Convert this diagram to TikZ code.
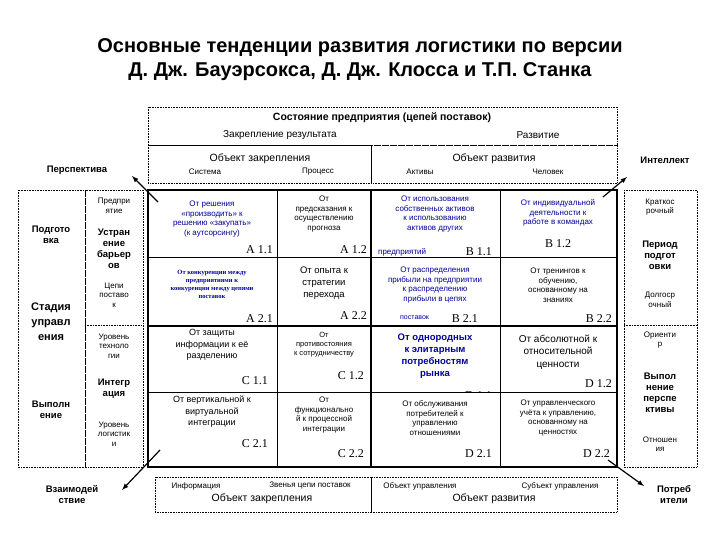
\documentclass[tikz,border=0pt]{standalone}
\usepackage{fontspec}
\setmainfont{Liberation Sans}
\newfontfamily\serf{Liberation Serif}
\begin{document}
\begin{tikzpicture}[x=1pt,y=-1pt,
 dot/.style={draw,densely dotted,line width=0.6pt},
 thk/.style={line width=2.2pt},
 thn/.style={line width=0.8pt},
 txt/.style={font=\fontsize{8}{9.5}\selectfont,align=center,inner sep=0pt},
 btxt/.style={font=\fontsize{9.5}{11}\selectfont\bfseries,align=center,inner sep=0pt},
 hd/.style={font=\fontsize{10}{12}\selectfont,inner sep=0pt},
 lbl/.style={font=\serf\fontsize{12}{12}\selectfont,inner sep=0pt,anchor=south east},
 blue/.style={text=blue!60!black},
 arr/.style={-latex,line width=1.2pt}]
\useasboundingbox (0,0) rectangle (720,540);
\node[font=\fontsize{20}{24}\selectfont\bfseries,align=center] (title) at (360,60) {Основные тенденции развития логистики по версии\\Д. Дж. Бауэрсокса, Д. Дж. Клосса и Т.П. Станка};
% top boxes
\draw[dot] (148,107) rectangle (617,145);
\draw[dot] (148,145) rectangle (371,183);
\draw[dot] (371,145) rectangle (617,183);
\node[font=\fontsize{10.5}{12}\selectfont\bfseries] (st) at (382,118) {Состояние предприятия (цепей поставок)};
\node[hd] (zr) at (280,135) {Закрепление результата};
\node[hd] (rz) at (538,135) {Развитие};
\node[hd,font=\fontsize{10.5}{12}\selectfont] (oz) at (260,159) {Объект закрепления};
\node[txt] (sys) at (205,172) {Система};
\node[txt] (proc) at (318,172) {Процесс};
\node[hd,font=\fontsize{10.5}{12}\selectfont] (orz) at (494,159) {Объект развития};
\node[txt] (akt) at (420,172) {Активы};
\node[txt] (chel) at (548,172) {Человек};
% left boxes
\draw[dot] (18,190) rectangle (85,467);
\draw[dot] (85,190) rectangle (143,467);
\draw[dot] (85,325) -- (143,325);
\node[btxt] (l1) at (51,235) {Подгото\\вка};
\node[btxt,font=\fontsize{11}{15}\selectfont\bfseries] (l2) at (51,322) {Стадия\\управл\\ения};
\node[btxt] (l3) at (51,410) {Выполн\\ение};
\node[txt] (i1) at (114,206) {Предпри\\ятие};
\node[btxt] (i2) at (114,249) {Устран\\ение\\барьер\\ов};
\node[txt] (i3) at (114,295) {Цепи\\поставо\\к};
\node[txt] (i4) at (114,346) {Уровень\\техноло\\гии};
\node[btxt] (i5) at (114,389) {Интегр\\ация};
\node[txt] (i6) at (114,434) {Уровень\\логистик\\и};
% right box
\draw[dot] (624,190) rectangle (697,467);
\draw[dot] (624,325) -- (697,325);
\node[txt] (r1) at (660,207) {Краткос\\рочный};
\node[btxt] (r2) at (660,255) {Период\\подгот\\овки};
\node[txt] (r3) at (660,300) {Долгоср\\очный};
\node[txt] (r4) at (660,340) {Ориенти\\р};
\node[btxt] (r5) at (660,393) {Выпол\\нение\\перспе\\ктивы};
\node[txt] (r6) at (660,444) {Отношен\\ия};
% clipped D 1.1 label
\begin{scope}
\clip (371,326) rectangle (500,392);
\node[lbl] at (492,400) {D 1.1};
\end{scope}
% grid
\draw[thn] (277,190) -- (277,467) (500,190) -- (500,467);
\draw[thn] (148,257) -- (617,257) (148,392) -- (617,392);
\draw[thk] (148,326) -- (617,326) (371,190) -- (371,467);
\draw[thk] (148,190) rectangle (617,467);
% cells
\node[txt,blue] (a11) at (212,219) {От решения\\«производить» к\\решению «закупать»\\(к аутсорсингу)};
\node[lbl] at (273,254) {A 1.1};
\node[txt] (a12) at (324,214) {От\\предсказания к\\осуществлению\\прогноза};
\node[lbl] at (367,254) {A 1.2};
\node[txt,blue,font=\serf\fontsize{6.5}{8}\selectfont\bfseries] (a21) at (212,284) {От конкуренции между\\предприятиями к\\конкуренции между цепями\\поставок};
\node[lbl] at (273,323) {A 2.1};
\node[txt,font=\fontsize{9.5}{12}\selectfont] (a22) at (324,283) {От опыта к\\стратегии\\перехода};
\node[lbl] at (367,320) {A 2.2};
\node[txt,blue] (b11) at (435,214) {От использования\\собственных активов\\к использованию\\активов других};
\node[txt,blue,anchor=west] (b11b) at (378,252) {предприятий};
\node[lbl] at (492,256) {B 1.1};
\node[txt,blue] (b12) at (558,213) {От индивидуальной\\деятельности к\\работе в командах};
\node[lbl,anchor=south] at (558,248) {B 1.2};
\node[txt,blue] (b21) at (435,285) {От распределения\\прибыли на предприятии\\к распределению\\прибыли в цепях};
\node[txt,blue,anchor=west,font=\fontsize{7}{8}\selectfont] (b21b) at (400,318) {поставок};
\node[lbl] at (478,323) {B 2.1};
\node[txt] (b22) at (558,285) {От тренингов к\\обучению,\\основанному на\\знаниях};
\node[lbl] at (612,323) {B 2.2};
\node[txt,font=\fontsize{9}{11.5}\selectfont] (c11) at (212,345) {От защиты\\информации к её\\разделению};
\node[lbl] at (268,385) {C 1.1};
\node[txt,font=\fontsize{7.5}{9}\selectfont] (c12) at (324,345) {От\\противостояния\\к сотрудничеству};
\node[lbl] at (364,380) {C 1.2};
\node[txt,font=\fontsize{9}{11.5}\selectfont] (c21) at (212,412) {От вертикальной к\\виртуальной\\интеграции};
\node[lbl] at (268,448) {C 2.1};
\node[txt] (c22) at (324,415) {От\\функционально\\й к процессной\\интеграции};
\node[lbl] at (364,458) {C 2.2};
\node[txt,blue,font=\fontsize{9.5}{12}\selectfont\bfseries] (d11) at (435,356) {От однородных\\к элитарным\\потребностям\\рынка};
\node[txt,font=\fontsize{10}{12.5}\selectfont] (d12) at (558,352) {От абсолютной к\\относительной\\ценности};
\node[lbl] at (612,388) {D 1.2};
\node[txt] (d21) at (435,418) {От обслуживания\\потребителей к\\управлению\\отношениями};
\node[lbl] at (492,458) {D 2.1};
\node[txt] (d22) at (558,418) {От управленческого\\учёта к управлению,\\основанному на\\ценностях};
\node[lbl] at (610,458) {D 2.2};
% bottom boxes
\draw[dot] (155,477) rectangle (371,512);
\draw[dot] (371,477) rectangle (617,512);
\node[txt] (inf) at (196,486) {Информация};
\node[txt] (zv) at (310,486) {Звенья цепи поставок};
\node[hd,font=\fontsize{10.5}{12}\selectfont] (oz2) at (262,499) {Объект закрепления};
\node[txt] (ou) at (420,486) {Объект управления};
\node[txt] (su) at (560,486) {Субъект управления};
\node[hd,font=\fontsize{10.5}{12}\selectfont] (orz2) at (494,499) {Объект развития};
% corner labels and arrows
\node[btxt] (persp) at (77,170) {Перспектива};
\node[btxt] (intel) at (665,160) {Интеллект};
\node[btxt] (vz) at (72,495) {Взаимодей\\ствие};
\node[btxt] (potr) at (674,495) {Потреб\\ители};
\coordinate (c1) at (158,202);
\coordinate (c2) at (603,197);
\coordinate (c3) at (160,450);
\coordinate (c4) at (608,460);
\draw[arr] (c1) -- (132,176);
\draw[arr] (c2) -- (627,177);
\draw[arr] (c3) -- (122,490);
\draw[arr] (c4) -- (644,486);
\end{tikzpicture}
\end{document}
